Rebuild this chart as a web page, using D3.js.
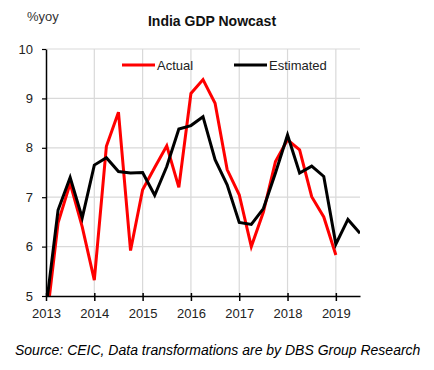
<!DOCTYPE html>
<html>
<head>
<meta charset="utf-8">
<script src="https://cdn.jsdelivr.net/npm/d3@7"></script>
<style>
  body { margin: 0; background: #fff; }
  text { font-family: "Liberation Sans", Arial, sans-serif; }
</style>
</head>
<body>
<svg id="chart" width="434" height="370"></svg>
<script>
// quarterly, starting 2013 Q1
var startYear = 2013;
var actual = [4.4, 6.48, 7.28, 6.4, 5.32, 8.03, 8.72, 5.92, 7.15, 7.6, 8.04, 7.2,
    9.1, 9.38, 8.9, 7.56, 7.05, 6.0, 6.7, 7.72, 8.16, 7.96, 7.01, 6.6, 5.83];
var estimated = [4.75, 6.74, 7.4, 6.58, 7.65, 7.8, 7.52, 7.49, 7.5, 7.04, 7.62, 8.38,
    8.45, 8.63, 7.76, 7.25, 6.49, 6.45, 6.77, 7.49, 8.26, 7.49, 7.63, 7.42, 6.05, 6.55, 6.27];
var yearTicks = [2013, 2014, 2015, 2016, 2017, 2018, 2019];
var valueTicks = [5, 6, 7, 8, 9, 10];

var svg = d3.select("#chart"),
    plotLeft = 46, plotRight = 360, plotTop = 49, plotBottom = 296;

var x = d3.scaleLinear().domain([2013, 2019.5]).range([plotLeft, plotRight]);
var y = d3.scaleLinear().domain([5, 10]).range([plotBottom, plotTop]);

function toPoints(arr) {
    return arr.map(function (v, i) { return {t: startYear + i / 4, v: v}; });
}

// gridlines
svg.append("g")
    .selectAll("line")
    .data(valueTicks.slice(1))
    .enter().append("line")
    .attr("x1", plotLeft).attr("x2", plotRight)
    .attr("y1", d => y(d)).attr("y2", d => y(d))
    .attr("stroke", "#d9d9d9").attr("stroke-width", 1.2);
svg.append("g")
    .selectAll("line")
    .data(yearTicks.slice(1))
    .enter().append("line")
    .attr("x1", d => x(d)).attr("x2", d => x(d))
    .attr("y1", plotTop).attr("y2", plotBottom)
    .attr("stroke", "#d9d9d9").attr("stroke-width", 1.2);

svg.append("clipPath").attr("id", "plot")
    .append("rect").attr("x", plotLeft).attr("y", plotTop)
    .attr("width", plotRight - plotLeft).attr("height", plotBottom - plotTop);

var line = d3.line().x(d => x(d.t)).y(d => y(d.v));

svg.append("path")
    .datum(toPoints(actual))
    .attr("d", line)
    .attr("clip-path", "url(#plot)")
    .attr("fill", "none").attr("stroke", "#ff0000").attr("stroke-width", 3);
svg.append("path")
    .datum(toPoints(estimated))
    .attr("d", line)
    .attr("clip-path", "url(#plot)")
    .attr("fill", "none").attr("stroke", "#000").attr("stroke-width", 3);

// axes
var xAxis = svg.append("g")
    .attr("transform", "translate(0," + plotBottom + ")")
    .call(d3.axisBottom(x).tickValues(yearTicks).tickFormat(d3.format("d")).tickSizeInner(5).tickSizeOuter(0));
xAxis.select(".domain").attr("stroke", "#000").attr("stroke-width", 1.5);
xAxis.selectAll(".tick line").attr("y1", -3).attr("stroke-width", 1.5);
xAxis.selectAll("text").attr("font-size", 13).attr("fill", "#222")
    .attr("font-family", "Liberation Sans, Arial, sans-serif").attr("dy", "1.05em");

var yAxis = svg.append("g")
    .attr("transform", "translate(" + plotLeft + ",0)")
    .call(d3.axisLeft(y).tickValues(valueTicks).tickFormat(d3.format("d"))
        .tickSizeInner(4).tickSizeOuter(0).tickPadding(9));
yAxis.select(".domain").attr("stroke", "#000").attr("stroke-width", 1.5);
yAxis.selectAll(".tick line").attr("stroke-width", 1.2);
yAxis.selectAll("text").attr("font-size", 13).attr("fill", "#222")
    .attr("font-family", "Liberation Sans, Arial, sans-serif");

// titles
svg.append("text").attr("x", 27).attr("y", 21)
    .attr("font-size", 13).attr("fill", "#333").text("%yoy");
svg.append("text").attr("x", 212).attr("y", 26)
    .attr("text-anchor", "middle").attr("font-size", 14).attr("font-weight", "bold")
    .attr("fill", "#111").text("India GDP Nowcast");

// legend
var legend = [{name: "Actual", color: "#ff0000", x: 122}, {name: "Estimated", color: "#000", x: 234}];
legend.forEach(function (l) {
    svg.append("line").attr("x1", l.x).attr("x2", l.x + 33).attr("y1", 65).attr("y2", 65)
        .attr("stroke", l.color).attr("stroke-width", 3);
    svg.append("text").attr("x", l.x + 35).attr("y", 69.5)
        .attr("font-size", 13).attr("fill", "#222").text(l.name);
});

svg.append("text").attr("x", 15).attr("y", 355)
    .attr("font-size", 14).attr("font-style", "italic").attr("fill", "#000")
    .text("Source: CEIC, Data transformations are by DBS Group Research");
</script>
</body>
</html>
